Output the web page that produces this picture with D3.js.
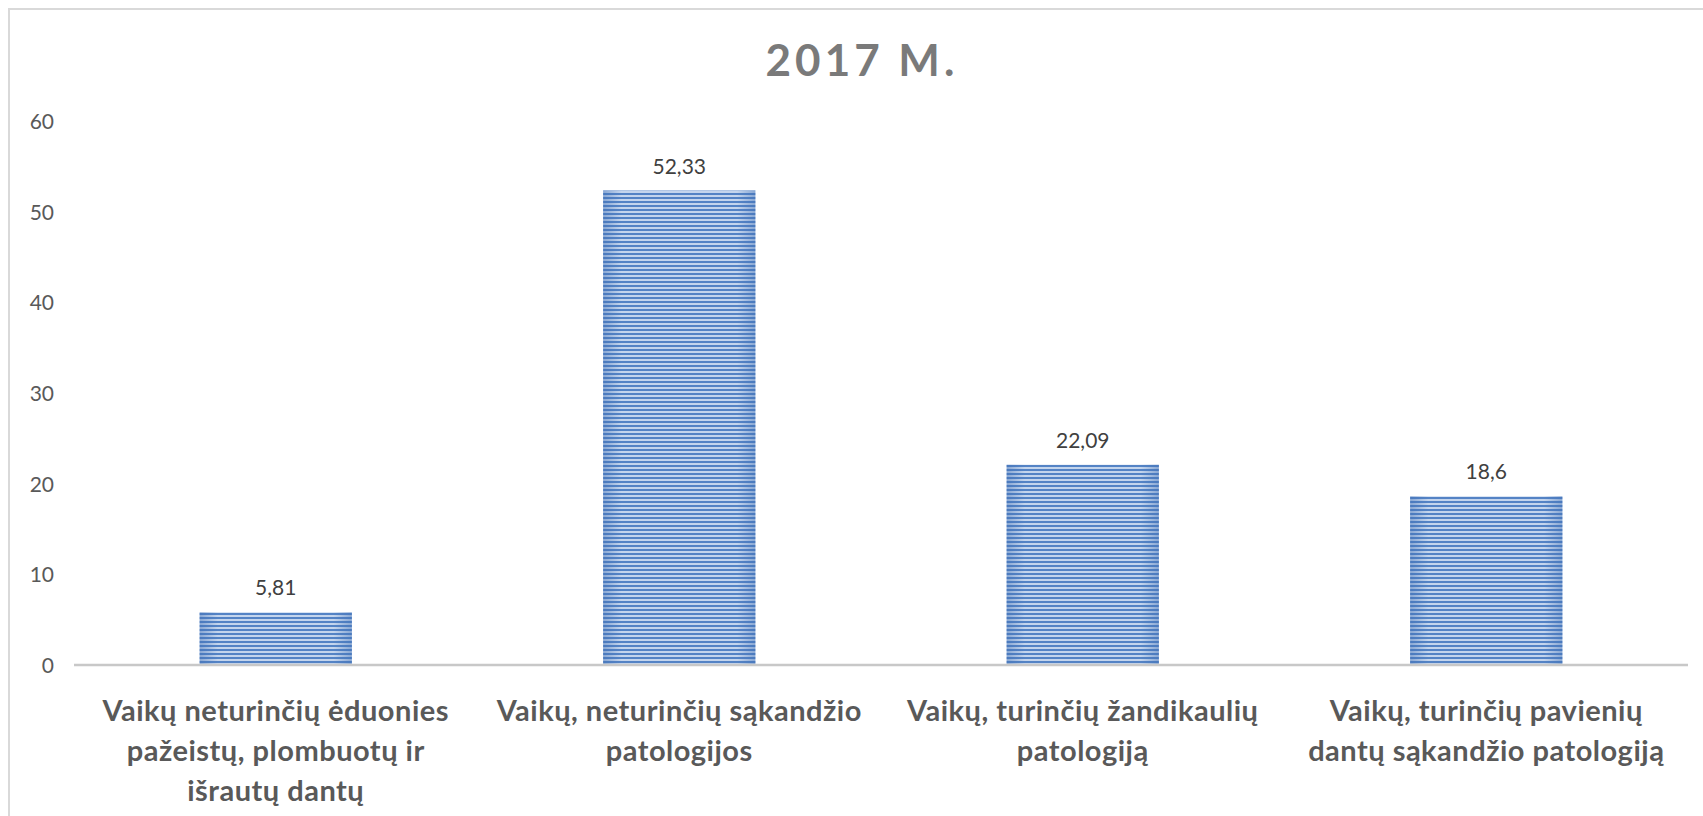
<!DOCTYPE html>
<html><head><meta charset="utf-8">
<script src="https://cdn.jsdelivr.net/npm/d3@7"></script>
<style>html,body{margin:0;padding:0;background:#fff;} svg{display:block}</style>
</head><body>
<svg id="chart" width="1703" height="816"></svg>
<script>
const title = "2017 M.";
const categories = [
  "Vaikų neturinčių ėduonies\npažeistų, plombuotų ir\nišrautų dantų",
  "Vaikų, neturinčių sąkandžio\npatologijos",
  "Vaikų, turinčių žandikaulių\npatologiją",
  "Vaikų, turinčių pavienių\ndantų sąkandžio patologiją"
];
const values = [5.81, 52.33, 22.09, 18.6];
const valueLabels = ["5,81", "52,33", "22,09", "18,6"];
const yTicks = [0, 10, 20, 30, 40, 50, 60];

const svg = d3.select("#chart");
const plot = {left: 74, right: 1688, top: 121, bottom: 665};

const gapRatio = 1 - 1 / 2.65;
const x = d3.scaleBand().domain(d3.range(categories.length))
  .range([plot.left, plot.right]).paddingInner(gapRatio).paddingOuter(gapRatio / 2);
const y = d3.scaleLinear().domain([0, 60]).range([plot.bottom, plot.top]);

const defs = svg.append("defs");
const pat = defs.append("pattern").attr("id", "stripes")
  .attr("patternUnits", "userSpaceOnUse").attr("width", 8).attr("height", 4)
  .attr("patternTransform", "translate(0,1)");
pat.append("rect").attr("width", 8).attr("height", 4).attr("fill", "#c4d5ed");
pat.append("rect").attr("width", 8).attr("height", 2).attr("fill", "#5483c5");

const grad = defs.append("linearGradient").attr("id", "edge").attr("x1", "0%").attr("x2", "100%").attr("y1", "0%").attr("y2", "0%");
[[0, 0.45], [0.12, 0.0], [0.88, 0.0], [1, 0.45]].forEach(([o, a]) =>
  grad.append("stop").attr("offset", o).attr("stop-color", "#3f6fb5").attr("stop-opacity", a));

// border
svg.append("path").attr("d", "M9,816 V9 H1703").attr("fill", "none")
  .attr("stroke", "#d9d9d9").attr("stroke-width", 2);

// title
svg.append("text").attr("x", 862).attr("y", 76).attr("text-anchor", "middle")
  .attr("font-family", "Lato").attr("font-weight", "bold").attr("font-size", 44)
  .attr("letter-spacing", "4px").attr("fill", "#7a7a7a").text(title);

// y axis
const yAxis = svg.append("g").attr("transform", `translate(${plot.left - 20},0)`)
  .call(d3.axisLeft(y).tickValues(yTicks).tickSize(0).tickPadding(0));
yAxis.select(".domain").remove();
yAxis.selectAll("text").attr("font-family", "Lato").attr("font-size", 21)
  .attr("fill", "#595959").attr("dy", "0.35em");

// bars
const bars = svg.append("g");
bars.selectAll("rect.bar").data(values).join("rect").attr("class", "bar")
  .attr("x", (d, i) => x(i)).attr("width", x.bandwidth())
  .attr("y", d => y(d)).attr("height", d => y(0) - y(d))
  .attr("fill", "url(#stripes)");
bars.selectAll("rect.edge").data(values).join("rect").attr("class", "edge")
  .attr("x", (d, i) => x(i)).attr("width", x.bandwidth())
  .attr("y", d => y(d)).attr("height", d => y(0) - y(d))
  .attr("fill", "url(#edge)");

// baseline
svg.append("line").attr("x1", plot.left).attr("x2", plot.right)
  .attr("y1", y(0)).attr("y2", y(0)).attr("stroke", "#c8c8c8").attr("stroke-width", 2.5);

// value labels
svg.append("g").selectAll("text").data(values).join("text")
  .attr("x", (d, i) => x(i) + x.bandwidth() / 2).attr("y", d => y(d) - 17)
  .attr("text-anchor", "middle").attr("font-family", "Lato").attr("font-size", 21)
  .attr("fill", "#404040").text((d, i) => valueLabels[i]);

// category labels
const cat = svg.append("g").selectAll("text").data(categories).join("text")
  .attr("text-anchor", "middle").attr("font-family", "Lato").attr("font-weight", "bold")
  .attr("font-size", 29).attr("letter-spacing", "0.5px").attr("fill", "#595959");
cat.each(function(d, i) {
  const t = d3.select(this);
  d.split("\n").forEach((line, k) => {
    t.append("tspan").attr("x", x(i) + x.bandwidth() / 2).attr("y", 721 + k * 40).text(line);
  });
});
</script>
</body></html>
